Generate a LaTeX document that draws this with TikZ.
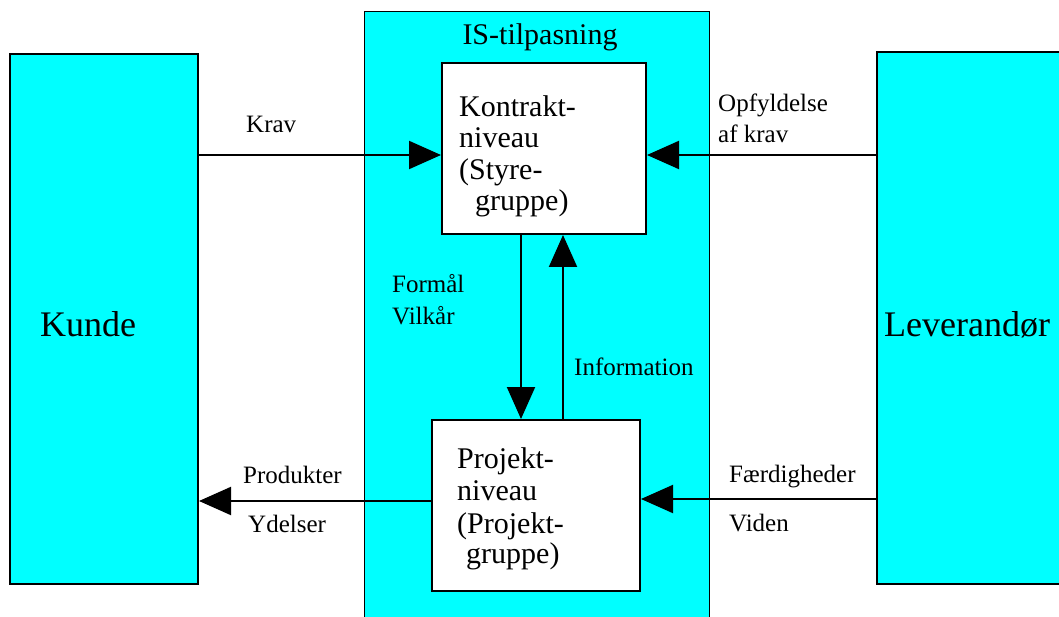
\documentclass[tikz,border=0pt]{standalone}
\usepackage{fontspec}
\setmainfont{Liberation Serif}
\usetikzlibrary{arrows.meta}
\definecolor{cyanfill}{RGB}{0,255,255}
\begin{document}
\begin{tikzpicture}[x=1pt,y=-1pt,
  txt/.style={inner sep=0pt, anchor=base west, font=\fontsize{30}{32}\selectfont},
  lbl/.style={inner sep=0pt, anchor=base west, font=\fontsize{25}{30}\selectfont},
  big/.style={inner sep=0pt, anchor=base west, font=\fontsize{36}{40}\selectfont},
  party/.style={draw=black, line width=2pt, fill=cyanfill, inner sep=0pt, anchor=north west},
  level/.style={draw=black, line width=2pt, fill=white, inner sep=0pt, anchor=north west},
  flow/.style={line width=2pt, -{Triangle[length=32pt,width=28pt]}}
]
\useasboundingbox (0,0) rectangle (1059,617);
% IS-tilpasning background
\node[draw=black, line width=0.8pt, fill=cyanfill, inner sep=0pt, anchor=north west,
      minimum width=345pt, minimum height=620pt] (is) at (364,11) {};
\node[inner sep=0pt, anchor=base, font=\fontsize{30}{32}\selectfont] (istitle) at (540,45) {IS-tilpasning};

% parties
\node[party, minimum width=188pt, minimum height=530pt] (kunde) at (9,53) {};
\node[party, minimum width=200pt, minimum height=532pt] (lev) at (876,51) {};
\node[big] (kundetxt) at (40,336) {Kunde};
\node[big] (levtxt) at (884,336) {Leverandør};

% levels
\node[level, minimum width=204pt, minimum height=171pt] (kontrakt) at (441,62) {};
\node[level, minimum width=208pt, minimum height=171pt] (projekt) at (431,419) {};

\node[txt] (k1) at (459,117) {Kontrakt-};
\node[txt] (k2) at (459,148) {niveau};
\node[txt] (k3) at (459,180) {(Styre-};
\node[txt] (k4) at (475,211) {gruppe)};

\node[txt] (p1) at (457,468) {Projekt-};
\node[txt] (p2) at (457,500) {niveau};
\node[txt] (p3) at (457,533) {(Projekt-};
\node[txt] (p4) at (466,563) {gruppe)};

% connectors
\draw[flow] (kunde.east |- 0,155) -- (kontrakt.west |- 0,155);
\draw[flow] (lev.west |- 0,155) -- (kontrakt.east |- 0,155);
\draw[flow] (kontrakt.south -| 521,0) -- (projekt.north -| 521,0);
\draw[flow] (projekt.north -| 563,0) -- (kontrakt.south -| 563,0);
\draw[flow] (projekt.west |- 0,501) -- (kunde.east |- 0,501);
\draw[flow] (lev.west |- 0,499) -- (projekt.east |- 0,499);

% labels
\node[lbl] (krav) at (246,133) {Krav};
\node[lbl] (opf1) at (718,112) {Opfyldelse};
\node[lbl] (opf2) at (718,143) {af krav};
\node[lbl] (form) at (392,293) {Formål};
\node[lbl] (vilk) at (392,324) {Vilkår};
\node[lbl] (info) at (574,375) {Information};
\node[lbl] (prod) at (243,483) {Produkter};
\node[lbl] (ydel) at (248,532) {Ydelser};
\node[lbl] (faerd) at (729,482) {Færdigheder};
\node[lbl] (viden) at (729,531) {Viden};
\end{tikzpicture}
\end{document}
